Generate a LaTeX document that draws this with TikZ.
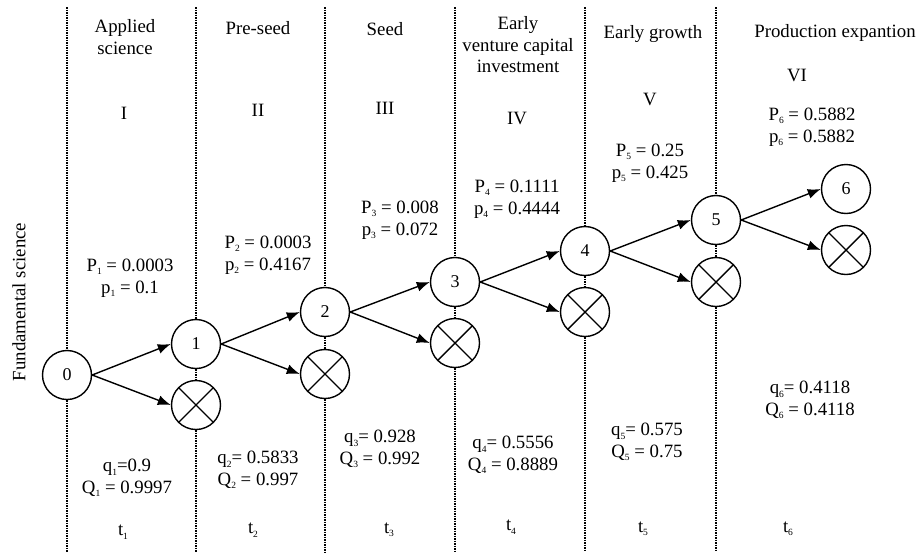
\documentclass[tikz,border=0pt]{standalone}
\usepackage{fontspec}
\setmainfont{Liberation Serif}
\usetikzlibrary{arrows.meta}
\newcommand\ix[1]{\raisebox{-0.4ex}{\fontsize{9.5}{9.5}\selectfont #1}}
\tikzset{
  st/.style={circle, draw, line width=1.4pt, minimum size=49pt, inner sep=0pt, font=\fontsize{18}{18}\selectfont},
  xn/.style={st, path picture={
      \draw[line width=1.4pt] (path picture bounding box.north west) -- (path picture bounding box.south east);
      \draw[line width=1.4pt] (path picture bounding box.north east) -- (path picture bounding box.south west);}},
  lbl/.style={align=center, font=\fontsize{18.8}{21.5}\selectfont, inner sep=0pt},
  arr/.style={-{Latex[length=13pt,width=10pt]}, line width=1.4pt},
  vline/.style={line width=2.4pt, dash pattern=on 1.6pt off 0.9pt}
}
\begin{document}
\begin{tikzpicture}[x=1pt,y=-1pt]
\useasboundingbox (0,0) rectangle (924,552);
% state nodes
\node[st] (n0) at (67,375) {0};
\node[st] (n1) at (196,344) {1};
\node[st] (n2) at (325,312) {2};
\node[st] (n3) at (455,282) {3};
\node[st] (n4) at (585,251) {4};
\node[st] (n5) at (716,220) {5};
\node[st] (n6) at (846,189) {6};
\node[xn] (x1) at (196,405) {};
\node[xn] (x2) at (325,374) {};
\node[xn] (x3) at (455,343) {};
\node[xn] (x4) at (585,312) {};
\node[xn] (x5) at (716,282) {};
\node[xn] (x6) at (846,250) {};
% top/bottom anchors for dotted lines
\foreach \i/\xx in {0/67,1/196,2/325,3/455,4/585,5/716}{
  \coordinate (top\i) at (\xx,7);
  \coordinate (bot\i) at (\xx,552);
}
\draw[vline] (top0) -- (n0.north);
\draw[vline] (n0.south) -- (bot0);
\foreach \i in {1,...,5}{
  \draw[vline] (top\i) -- (n\i.north);
  \draw[vline] (n\i.south) -- (x\i.north);
  \draw[vline] (x\i.south) -- (bot\i);
}
% arrows
\foreach \i/\j in {0/1,1/2,2/3,3/4,4/5,5/6}{
  \draw[arr] (n\i.east) -- (n\j.west);
  \draw[arr] (n\i.east) -- (x\j.west);
}
% side label
\node[lbl, rotate=90] (fs) at (19,302) {Fundamental science};
% stage titles
\node[lbl] (h1) at (125,37) {Applied\\science};
\node[lbl] (h2) at (258,28) {Pre-seed};
\node[lbl] (h3) at (385,29) {Seed};
\node[lbl] (h4) at (518,45) {Early\\venture capital\\investment};
\node[lbl] (h5) at (653,34) {Early growth};
\node[lbl] (h6) at (835,33) {Production expantion};
% roman numerals
\node[lbl] (r1) at (124,113) {I};
\node[lbl] (r2) at (258,110) {II};
\node[lbl] (r3) at (385,108) {III};
\node[lbl] (r4) at (517,118) {IV};
\node[lbl] (r5) at (650,99) {V};
\node[lbl] (r6) at (797,75) {VI};
% P labels
\node[lbl] (p1) at (130,278) {P\ix{1} = 0.0003\\p\ix{1} = 0.1};
\node[lbl] (p2) at (268,255) {P\ix{2} = 0.0003\\p\ix{2} = 0.4167};
\node[lbl] (p3) at (400,220) {P\ix{3} = 0.008\\p\ix{3} = 0.072};
\node[lbl] (p4) at (517,199) {P\ix{4} = 0.1111\\p\ix{4} = 0.4444};
\node[lbl] (p5) at (650,163) {P\ix{5} = 0.25\\p\ix{5} = 0.425};
\node[lbl] (p6) at (812,127) {P\ix{6} = 0.5882\\p\ix{6} = 0.5882};
% q labels
\node[lbl] (q1) at (127,478) {q\ix{1}=0.9\\Q\ix{1} = 0.9997};
\node[lbl] (q2) at (258,470) {q\ix{2}= 0.5833\\Q\ix{2} = 0.997};
\node[lbl] (q3) at (380,449) {q\ix{3}= 0.928\\Q\ix{3} = 0.992};
\node[lbl] (q4) at (513,455) {q\ix{4}= 0.5556\\Q\ix{4} = 0.8889};
\node[lbl] (q5) at (647,442) {q\ix{5}= 0.575\\Q\ix{5} = 0.75};
\node[lbl] (q6) at (810,400) {q\ix{6}= 0.4118\\Q\ix{6} = 0.4118};
% times
\node[lbl] (t1) at (123,532) {t\ix{1}};
\node[lbl] (t2) at (253,530) {t\ix{2}};
\node[lbl] (t3) at (389,530) {t\ix{3}};
\node[lbl] (t4) at (511,527) {t\ix{4}};
\node[lbl] (t5) at (643,529) {t\ix{5}};
\node[lbl] (t6) at (788,529) {t\ix{6}};
\end{tikzpicture}
\end{document}
